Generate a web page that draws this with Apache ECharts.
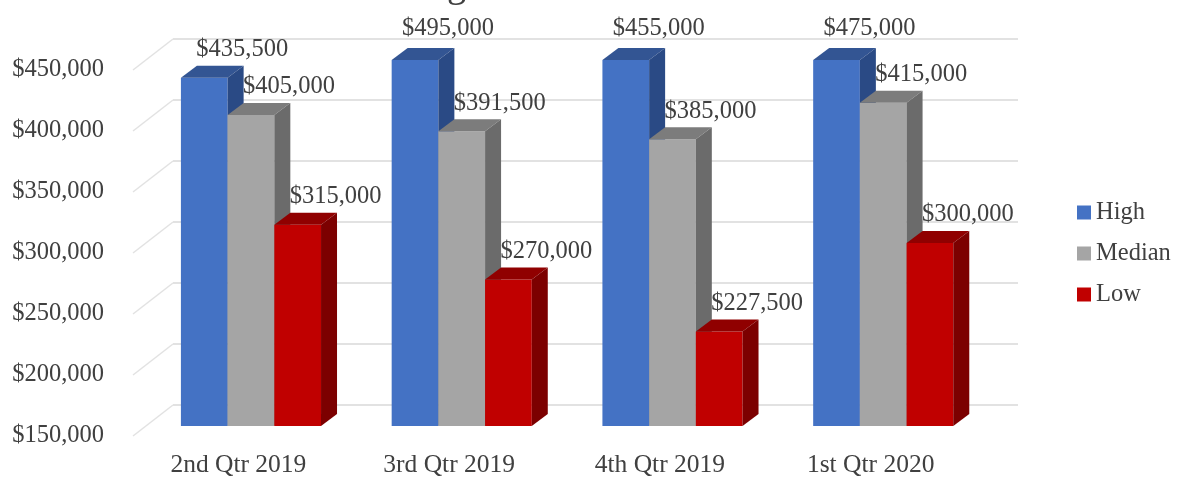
<!DOCTYPE html>
<html lang="en">
  <head>
    <meta charset="UTF-8" />
    <script src="https://cdn.jsdelivr.net/npm/echarts@6/dist/echarts.min.js"></script>
    <title>Chart</title>
    <style>
      html, body { margin: 0; background: #fff; }
      #app { width: 1177px; height: 477px; }
    </style>
  </head>
  <body>
    <div id="app"></div>

    <script>
      const categories = ["2nd Qtr 2019", "3rd Qtr 2019", "4th Qtr 2019", "1st Qtr 2020"];
      const high = [435500, 495000, 455000, 475000];
      const median = [405000, 391500, 385000, 415000];
      const low = [315000, 270000, 227500, 300000];
      const axisMin = 150000;
      const axisMax = 450000;
      const axisStep = 50000;

      const FONT = '"Liberation Serif", serif';
      const TEXT = "#404040";
      const GRID_LINE = "#e2e2e2";
      const usd = (v) => "$" + v.toLocaleString("en-US");

      const echart = echarts.init(document.getElementById("app"));

      // fake 3D box: front face from the scale, top and side are sheared back
      function barSeries(name, values, slot, front, top, side) {
        return {
          name,
          type: "custom",
          xAxisIndex: 2,
          yAxisIndex: 2,
          itemStyle: { color: front },
          data: values.map((v, i) => [i, v]),
          encode: { x: 0, y: 1 },
          clip: false,
          renderItem(params, api) {
            const v = api.value(1);
            const clipped = v > axisMax;
            const p = api.coord([api.value(0), Math.min(v, axisMax)]);
            const base = api.coord([api.value(0), axisMin])[1];
            const w = api.size([1, 0])[0] * 0.2216;
            const x = p[0] + (slot - 1.5) * w;
            const y = p[1];
            const dx = 16;
            const dy = 12;
            const poly = (points, fill) => ({
              type: "polygon",
              shape: { points },
              style: { fill },
            });
            return {
              type: "group",
              children: [
                poly([[x, y], [x + w, y], [x + w, base], [x, base]], front),
                poly([[x, y], [x + dx, y - dy], [x + w + dx, y - dy], [x + w, y]], top),
                poly([[x + w, y], [x + w + dx, y - dy], [x + w + dx, base - dy], [x + w, base]], side),
                {
                  type: "text",
                  z2: 100,
                  x: x + w / 2 + (clipped ? 33 : 38),
                  y: y - (clipped ? 31 : 28),
                  style: {
                    text: usd(v),
                    font: "24.5px " + FONT,
                    fill: TEXT,
                    align: "center",
                    verticalAlign: "middle",
                  },
                },
              ],
            };
          },
        };
      }

      // grey floor/wall edges joining the front plane to the back wall
      const edgeSeries = {
        type: "custom",
        xAxisIndex: 1,
        yAxisIndex: 1,
        silent: true,
        clip: false,
        legendHoverLink: false,
        data: [150000, 200000, 250000, 300000, 350000, 400000, 450000].map((v) => [0, v]),
        encode: { y: 1 },
        renderItem(params, api) {
          const y = api.coord([0, api.value(1)])[1];
          return {
            type: "line",
            shape: { x1: 133, y1: y, x2: 173, y2: y - 31 },
            style: { stroke: GRID_LINE, lineWidth: 1.5 },
          };
        },
      };

      const hiddenCategory = (gridIndex) => ({
        type: "category",
        gridIndex,
        data: categories,
        axisLine: { show: false },
        axisTick: { show: false },
        axisLabel: { show: false },
      });
      const valueAxis = (gridIndex, extra) => ({
        type: "value",
        gridIndex,
        min: axisMin,
        max: axisMax,
        interval: axisStep,
        axisLine: { show: false },
        axisTick: { show: false },
        axisLabel: { show: false },
        splitLine: { show: false },
        ...extra,
      });

      echart.setOption({
        animation: false,
        backgroundColor: "#fff",
        // only the descender of the cut-off title is visible in the picture
        title: {
          text: "g",
          left: 447,
          top: -32,
          padding: 0,
          textStyle: { fontFamily: FONT, fontSize: 38, fontWeight: "normal", color: TEXT },
        },
        legend: {
          orient: "vertical",
          left: 1072,
          top: 195,
          itemWidth: 14,
          itemHeight: 14,
          itemGap: 16,
          icon: "rect",
          data: ["High", "Median", "Low"],
          textStyle: { fontFamily: FONT, fontSize: 24.5, color: TEXT },
        },
        grid: [
          { left: 173, top: 39, width: 845, height: 366, outerBoundsMode: "none" }, // back wall
          { left: 133, top: 70, width: 843, height: 366, outerBoundsMode: "none" }, // front plane, carries the labels
          { left: 145.6, top: 60, width: 843, height: 366, outerBoundsMode: "none" }, // bar fronts
        ],
        xAxis: [
          hiddenCategory(0),
          {
            ...hiddenCategory(1),
            axisLabel: {
              show: true,
              margin: 16,
              fontFamily: FONT,
              fontSize: 25.5,
              color: TEXT,
            },
          },
          hiddenCategory(2),
        ],
        yAxis: [
          valueAxis(0, {
            splitLine: { show: true, lineStyle: { color: GRID_LINE, width: 2 } },
          }),
          valueAxis(1, {
            axisLabel: {
              show: true,
              margin: 29,
              formatter: usd,
              fontFamily: FONT,
              fontSize: 24.5,
              color: TEXT,
              padding: [0, 0, 8, 0],
            },
          }),
          valueAxis(2),
        ],
        series: [
          edgeSeries,
          barSeries("High", high, 0, "#4472C4", "#335593", "#2A4A85"),
          barSeries("Median", median, 1, "#A5A5A5", "#7C7C7C", "#6B6B6B"),
          barSeries("Low", low, 2, "#C00000", "#900000", "#7C0000"),
        ],
      });
    </script>
  </body>
</html>
